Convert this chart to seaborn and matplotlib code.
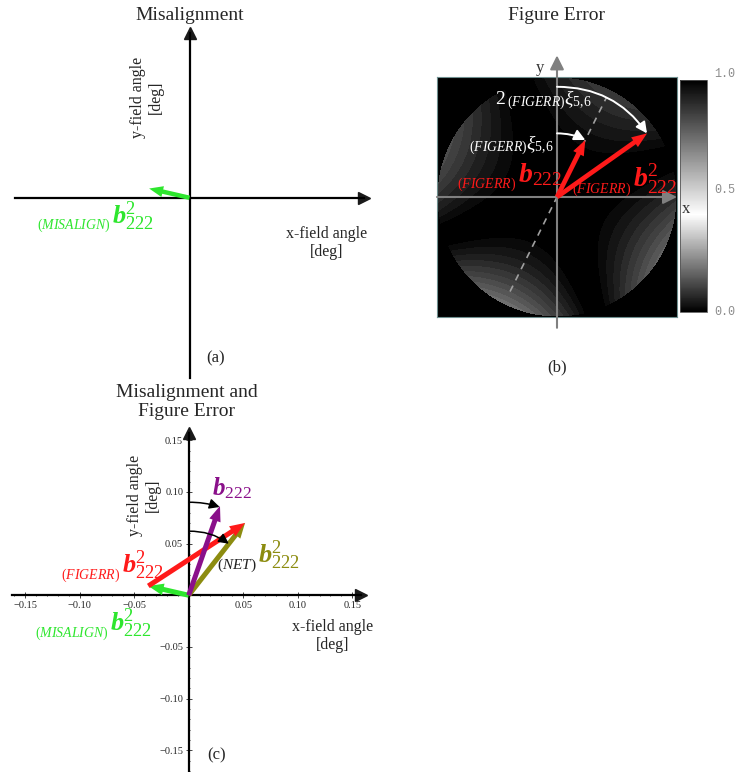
import numpy as np
import matplotlib
matplotlib.use('Agg')
import matplotlib.pyplot as plt
from matplotlib.colors import LinearSegmentedColormap
from matplotlib.ticker import FixedLocator, MultipleLocator
import seaborn as sns

# ---------------- data ----------------
# panel (c) field vectors [deg]
misalign_b222 = [-0.037, 0.009]
figerr_b222 = [0.0887, 0.061]          # drawn from the tip of the misalignment vector
net_b222 = [misalign_b222[0] + figerr_b222[0], misalign_b222[1] + figerr_b222[1]]
b222 = [0.0287, 0.0864]
arc_radius_c = [0.09, 0.062]           # b222 arc, net arc

# panel (b) vectors, in units of the aperture radius
fig_b222_unit = [0.236, 0.475]
fig_b222sq_unit = [0.75, 0.53]

ticks = [-0.15, -0.10, -0.05, 0.05, 0.10, 0.15]
tick_labels = ['\u22120.15', '\u22120.10', '\u22120.05', '0.05', '0.10', '0.15']
cbar_ticks = [0.0, 0.5, 1.0]
cbar_tick_labels = ['0.0', '0.5', '1.0']

# figure error map (astigmatic lobes, banded)
n_grid = 240
lobe_cut = 0.16
lobe_gain = [0.165, 0.05, 0.02]
band_step = 0.018

GREEN = '#2ee62e'
RED = '#ff1a1a'
PURPLE = '#8a108a'
OLIVE = '#8c8c10'
GRAY = '#808080'

# ---------------- style ----------------
sns.set_theme(style='white')
plt.rcParams['font.family'] = ['Liberation Serif', 'DejaVu Serif']
plt.rcParams['mathtext.fontset'] = 'custom'
plt.rcParams['mathtext.rm'] = 'Liberation Serif'
plt.rcParams['mathtext.it'] = 'Liberation Serif:italic'
plt.rcParams['mathtext.bf'] = 'Liberation Serif:italic:bold'

W, H = 738, 772
fig = plt.figure(figsize=(W / 100, H / 100), dpi=100)


def box(l, t, r, b):
    return [l / W, 1 - b / H, (r - l) / W, (b - t) / H]


def ftext(x, y, s, **kw):
    fig.text(x / W, 1 - y / H, s, ha='center', va='center', **kw)


def cross_axes(ax, lw=1.6):
    for side in ['top', 'right']:
        ax.spines[side].set_visible(False)
    for side in ['left', 'bottom']:
        ax.spines[side].set_position(('data', 0))
        ax.spines[side].set_linewidth(lw)
        ax.spines[side].set_color('black')
    ax.plot(1, 0, '>', color='k', ms=9, transform=ax.get_yaxis_transform(), clip_on=False)
    ax.plot(0, 1, '^', color='k', ms=9, transform=ax.get_xaxis_transform(), clip_on=False)
    ax.patch.set_alpha(0)


def vec(ax, start, end, color, tail=0.36, head_w=0.85, head_l=1.1):
    ax.annotate('', xy=end, xytext=start, annotation_clip=False,
                arrowprops=dict(arrowstyle=f'simple,head_length={head_l},head_width={head_w},tail_width={tail}',
                                color=color, lw=0, shrinkA=0, shrinkB=0, mutation_scale=10))


def arc_arrow(ax, radius, direction, color, lw=1.2, ms=10):
    ang = np.arctan2(direction[1], direction[0])
    delta = np.pi / 2 - ang
    end = (radius * np.cos(ang), radius * np.sin(ang))
    rad = -np.tan(delta / 2) / 2
    ax.annotate('', xy=end, xytext=(0, radius), annotation_clip=False,
                arrowprops=dict(arrowstyle='-|>,head_length=0.6,head_width=0.3', color=color, lw=lw,
                                shrinkA=0, shrinkB=0, mutation_scale=ms,
                                connectionstyle=f'arc3,rad={rad:.3f}'))


def vec_label(ax, x, y, body, color, prefix=None, pcolor=None, size=19, psize=10, drop=4):
    ax.annotate(body, (x, y), ha='left', va='baseline', color=color, fontsize=size, annotation_clip=False)
    if prefix:
        ax.annotate(prefix, (x, y), xytext=(-1, -drop), textcoords='offset points', ha='right',
                    va='baseline', color=pcolor or color, fontsize=psize, annotation_clip=False)


B2 = r'$\mathbf{b}^{2}_{222}$'

# ---------------- (a) misalignment ----------------
ax_a = fig.add_axes(box(15, 33, 364, 378))
ax_a.set_xlim(-0.16, 0.16)
ax_a.set_ylim(-0.175, 0.16)
cross_axes(ax_a)
ax_a.set_xticks([])
ax_a.set_yticks([])
vec(ax_a, (0, 0), misalign_b222, GREEN, tail=0.32, head_w=0.8, head_l=1.0)
vec_label(ax_a, -0.071, -0.025, B2, GREEN, prefix=r'$(\mathit{MISALIGN})$')

ftext(190, 15, 'Misalignment', fontsize=14)
ftext(327, 243, 'x-field angle\n[deg]', fontsize=11.5)
ftext(147, 97, 'y-field angle\n[deg]', fontsize=11.5, rotation=90)
ftext(216, 358, '(a)', fontsize=12)

# ---------------- (b) figure error ----------------
g = np.linspace(-1, 1, n_grid)
X, Y = np.meshgrid(g, g[::-1])
xi = np.arctan2(fig_b222_unit[0], fig_b222_unit[1])
phi = np.pi / 2 - xi
xr = X * np.cos(phi) + Y * np.sin(phi)
yr = -X * np.sin(phi) + Y * np.cos(phi)
s = np.abs(xr ** 2 - yr ** 2)
val = np.where(s > lobe_cut, (s - 0.6 * lobe_cut) * (lobe_gain[0] - lobe_gain[1] * xr - lobe_gain[2] * yr), 0.0)
val = np.floor(val / band_step) * band_step
val[X ** 2 + Y ** 2 > 1] = 0.0

cmap = LinearSegmentedColormap.from_list('bwb', [(0, 'black'), (0.42, 'white'), (1, 'black')])
ax_img = fig.add_axes(box(437, 77, 677, 317))
ax_cb = fig.add_axes(box(680, 80, 707, 312))
sns.heatmap(val, ax=ax_img, cmap=cmap, vmin=0, vmax=1, cbar_ax=ax_cb,
            xticklabels=False, yticklabels=False, rasterized=True)
for sp in ax_img.spines.values():
    sp.set_visible(True)
    sp.set_color('#6f9090')
    sp.set_linewidth(0.8)
cb = ax_img.collections[0].colorbar
cb.set_ticks(cbar_ticks)
cb.set_ticklabels(cbar_tick_labels)
cb.outline.set_linewidth(0.6)
cb.outline.set_edgecolor('#555555')
ax_cb.tick_params(length=0, pad=5, labelsize=8.5, labelcolor='#8c8c8c')
for t in ax_cb.get_yticklabels():
    t.set_fontfamily('Liberation Mono')
    t.set_va('bottom')
ax_cb.get_yticklabels()[0].set_va('center')

ax_b = fig.add_axes(box(437, 77, 677, 317))
ax_b.set_xlim(-1, 1)
ax_b.set_ylim(-1, 1)
ax_b.axis('off')
ax_b.patch.set_alpha(0)
axis_arrow = dict(arrowstyle='-|>,head_length=0.6,head_width=0.3', color=GRAY, lw=1.5,
                  shrinkA=0, shrinkB=0, mutation_scale=14)
ax_b.annotate('', xy=(0, 1.18), xytext=(0, -1.09), arrowprops=axis_arrow, annotation_clip=False)
ax_b.annotate('', xy=(1.0, 0), xytext=(-1, 0), arrowprops=axis_arrow, annotation_clip=False)
ax_b.text(-0.14, 1.075, 'y', fontsize=12, color='#333333', ha='center', va='center')
ax_b.text(1.075, -0.1, 'x', fontsize=12, color='#333333', ha='center', va='center', clip_on=False)

t_dash = np.array([-0.88, 0.925])
ax_b.plot(t_dash * np.cos(phi), t_dash * np.sin(phi), color='#a0a0a0', lw=1.2, ls=(0, (4, 3.5)))

vec(ax_b, (0, 0), fig_b222_unit, RED, tail=0.34, head_w=0.85, head_l=1.1)
vec(ax_b, (0, 0), fig_b222sq_unit, RED, tail=0.34, head_w=0.85, head_l=1.1)
arc_arrow(ax_b, np.hypot(*fig_b222_unit), fig_b222_unit, 'white', lw=1.4, ms=11)
arc_arrow(ax_b, np.hypot(*fig_b222sq_unit), fig_b222sq_unit, 'white', lw=1.4, ms=11)

ax_b.text(-0.52, 0.81, r'$2\,_{(\mathit{FIGERR})}\xi_{5{,}6}$', color='white', fontsize=14, ha='left', va='center')
ax_b.text(-0.03, 0.43, r'${}_{(\mathit{FIGERR})}\xi_{5{,}6}$', color='white', fontsize=14, ha='right', va='center')
vec_label(ax_b, -0.325, 0.125, r'$\mathbf{b}_{222}$', RED, prefix=r'$(\mathit{FIGERR})$', size=20)
vec_label(ax_b, 0.633, 0.083, B2, RED, prefix=r'$(\mathit{FIGERR})$', size=20)

ftext(557, 15, 'Figure Error', fontsize=14)
ftext(557, 367, '(b)', fontsize=12)

# ---------------- (c) combined ----------------
ax_c = fig.add_axes(box(12, 433, 361, 772))
ax_c.set_xlim(-0.162, 0.158)
ax_c.set_ylim(-0.171, 0.157)
cross_axes(ax_c)
ax_c.xaxis.set_major_locator(FixedLocator(ticks))
ax_c.set_xticklabels(tick_labels)
ax_c.yaxis.set_major_locator(FixedLocator(ticks))
ax_c.set_yticklabels(tick_labels)
ax_c.xaxis.set_minor_locator(MultipleLocator(0.01))
ax_c.yaxis.set_minor_locator(MultipleLocator(0.01))
ax_c.tick_params(which='both', bottom=True, left=True, direction='inout', width=0.7, color='#444444')
ax_c.tick_params(which='major', length=4, labelsize=7.5, pad=2)
ax_c.tick_params(which='minor', length=2)

vec(ax_c, (0, 0), misalign_b222, GREEN)
vec(ax_c, (0, 0), net_b222, OLIVE)
vec(ax_c, misalign_b222, net_b222, RED)
vec(ax_c, (0, 0), b222, PURPLE)
arc_arrow(ax_c, arc_radius_c[0], b222, 'black', lw=1.1, ms=10)
arc_arrow(ax_c, arc_radius_c[1], net_b222, 'black', lw=1.1, ms=10)

vec_label(ax_c, -0.0722, -0.0345, B2, GREEN, prefix=r'$(\mathit{MISALIGN})$')
vec_label(ax_c, -0.0612, 0.0215, B2, RED, prefix=r'$(\mathit{FIGERR})$')
vec_label(ax_c, 0.0637, 0.0312, B2, OLIVE, prefix=r'$(\mathit{NET})$', pcolor='#222222', psize=11)
vec_label(ax_c, 0.0214, 0.097, r'$\mathbf{b}_{222}$', PURPLE, size=18)

ftext(187, 402, 'Misalignment and\nFigure Error', fontsize=14, linespacing=1.1)
ftext(333, 636, 'x-field angle\n[deg]', fontsize=11.5)
ftext(144, 495, 'y-field angle\n[deg]', fontsize=11.5, rotation=90)
ftext(217, 755, '(c)', fontsize=12)

fig.savefig('out.png', dpi=100)
